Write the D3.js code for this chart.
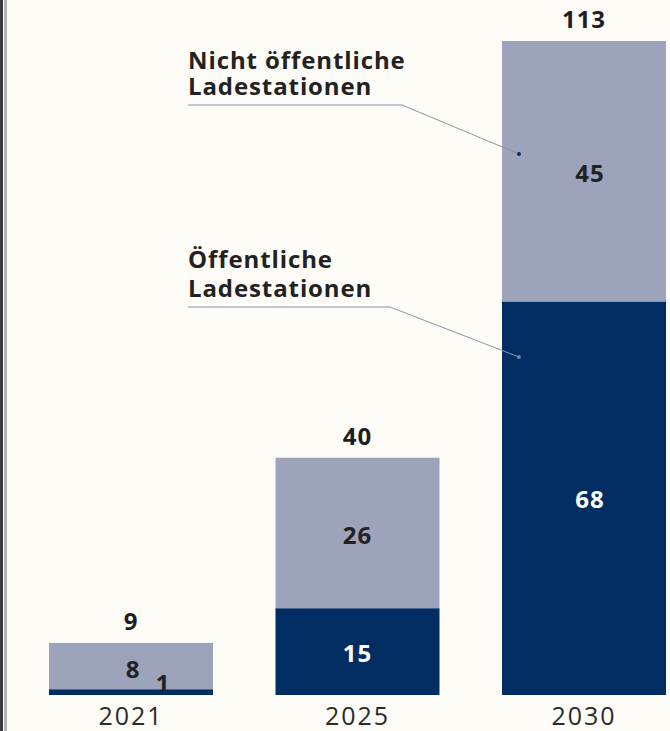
<!DOCTYPE html>
<html>
<head>
<meta charset="utf-8">
<script src="https://cdn.jsdelivr.net/npm/d3@7"></script>
<style>
  body { margin: 0; background: #fdfcf7; }
  svg { display: block; }
</style>
</head>
<body>
<div id="chart"></div>
<script>
// data
const years = ["2021", "2025", "2030"];
const publicStations = [1, 15, 68];      // Öffentliche Ladestationen
const privateStations = [8, 26, 45];     // Nicht öffentliche Ladestationen
const totals = [9, 40, 113];

const width = 670;
const height = 731;

const darkBlue = "#022d63";
const lightBlue = "#9ca3bb";

let xScale = d3.scaleBand()
  .domain(years)
  .range([49, 666])
  .paddingInner(0.276)
  .paddingOuter(0);

let yScale = d3.scaleLinear()
  .domain([0, 113])
  .range([695, 41]);

let svg = d3.select("#chart")
  .append("svg")
  .attr("width", width)
  .attr("height", height);

svg.append("rect")
  .attr("width", width)
  .attr("height", height)
  .attr("fill", "#fdfcf7");

// frame on the left
svg.append("rect").attr("x", 0).attr("y", 0).attr("width", 3).attr("height", height).attr("fill", "#3a3a3a");
svg.append("rect").attr("x", 4).attr("y", 0).attr("width", 3).attr("height", height).attr("fill", "#b5b5b2");

let rows = years.map((y, i) => ({
  year: y, pub: publicStations[i], priv: privateStations[i], total: totals[i]
}));

let bw = xScale.bandwidth();
let bx = d => xScale(d.year);
let cx = d => bx(d) + bw / 2;
let font = "'Open Sans', sans-serif";

// public part (bottom)
svg.selectAll("rect.pub")
  .data(rows).enter()
  .append("rect")
  .attr("class", "pub")
  .attr("x", bx)
  .attr("width", bw)
  .attr("y", d => yScale(d.pub))
  .attr("height", d => yScale(0) - yScale(d.pub))
  .attr("fill", darkBlue);

// non public part (top)
svg.selectAll("rect.priv")
  .data(rows).enter()
  .append("rect")
  .attr("class", "priv")
  .attr("x", bx)
  .attr("width", bw)
  .attr("y", d => yScale(d.pub + d.priv))
  .attr("height", d => yScale(d.pub) - yScale(d.pub + d.priv))
  .attr("fill", lightBlue);

function numText(sel) {
  sel.attr("text-anchor", "middle")
    .attr("font-family", font)
    .attr("font-weight", 700)
    .attr("font-size", 24)
    .attr("letter-spacing", 1);
}

// totals
svg.selectAll("text.total")
  .data(rows).enter()
  .append("text")
  .attr("class", "total")
  .attr("x", cx)
  .attr("y", d => yScale(d.pub + d.priv) - 13)
  .attr("fill", "#1e1e1e")
  .call(numText)
  .text(d => d.total);

// segment values
svg.selectAll("text.privval")
  .data(rows).enter()
  .append("text")
  .attr("class", "privval")
  .attr("x", d => cx(d) + (d.year === "2030" ? 6 : (d.year === "2021" ? 2 : 0)))
  .attr("y", d => d.year === "2021" ? 678 : (yScale(d.pub) + yScale(d.pub + d.priv)) / 2 + 11)
  .attr("fill", "#222")
  .call(numText)
  .text(d => d.priv);

svg.selectAll("text.pubval")
  .data(rows).enter()
  .append("text")
  .attr("class", "pubval")
  .attr("x", d => cx(d) + (d.year === "2030" ? 6 : (d.year === "2021" ? 32 : 0)))
  .attr("y", d => d.year === "2021" ? 692 : (yScale(0) + yScale(d.pub)) / 2 + 10)
  .attr("fill", d => d.year === "2021" ? "#222" : "#ffffff")
  .call(numText)
  .text(d => d.pub);

// category axis
svg.append("g")
  .attr("transform", "translate(0,695)")
  .call(d3.axisBottom(xScale).tickSize(0).tickPadding(12))
  .call(g => g.select(".domain").remove())
  .selectAll("text")
  .attr("font-family", font)
  .attr("font-size", 25)
  .attr("letter-spacing", 2)
  .attr("fill", "#2a2a2a")
  .attr("dy", "0.71em");

// annotations
let notes = [
  { lines: ["Nicht öffentliche", "Ladestationen"], y0: 69, gap: 26, lineY: 105, lineEnd: 402, dot: [519, 154], dotColor: darkBlue },
  { lines: ["Öffentliche", "Ladestationen"], y0: 268, gap: 29, lineY: 307, lineEnd: 390, dot: [519, 357], dotColor: "#6f86a8" }
];

notes.forEach(n => {
  n.lines.forEach((l, i) => {
    svg.append("text")
      .attr("x", 188)
      .attr("y", n.y0 + i * n.gap)
      .attr("font-family", font)
      .attr("font-weight", 700)
      .attr("font-size", 24)
      .attr("letter-spacing", 0.9)
      .attr("fill", "#222")
      .text(l);
  });
  svg.append("polyline")
    .attr("points", `188,${n.lineY} ${n.lineEnd},${n.lineY} ${n.dot[0]},${n.dot[1]}`)
    .attr("fill", "none")
    .attr("stroke", "#8a93a8")
    .attr("stroke-width", 1);
  svg.append("circle")
    .attr("cx", n.dot[0])
    .attr("cy", n.dot[1])
    .attr("r", 2)
    .attr("fill", n.dotColor);
});
</script>
</body>
</html>
